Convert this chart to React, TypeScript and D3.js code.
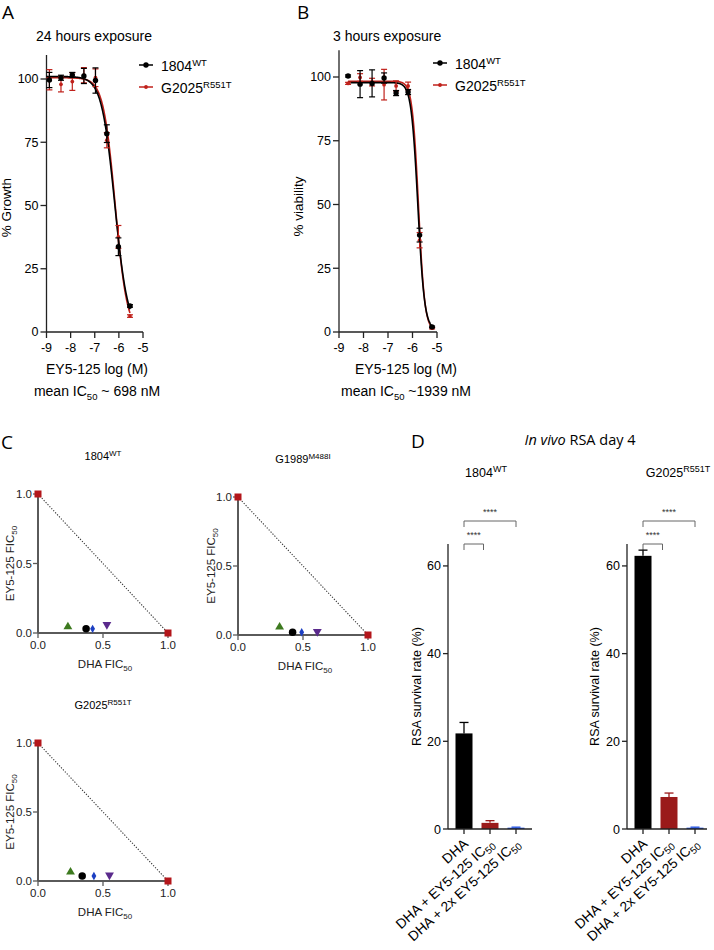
import React from "react";
import * as d3 from "d3";

const FONT = "'Liberation Sans', Arial, Helvetica, sans-serif";
const LETTER_FONT = "'Open Sans', 'Liberation Sans', sans-serif";

// ---------- Panel A (24 h) ----------
const A_LOGX = [-8.88, -8.4, -7.93, -7.45, -6.97, -6.5, -6.02, -5.54];
const A_WT = [99.6, 100.5, 101.6, 101.2, 99.4, 78.4, 33.7, 10.3];
const A_WT_SD = [3, 1, 1, 3, 5, 3.5, 3.5, 0.5];
const A_MUT = [99.7, 97.9, 99, 101.5, 100.5, 75.8, 37.6, 6.3];
const A_MUT_SD = [4, 3, 3.5, 3, 3.5, 3, 4.5, 0.5];
// top, bottom, logIC50, hill
const A_FIT_WT = [101, 0, -6.17, 1.6];
const A_FIT_MUT = [100.5, -0.5, -6.15, 1.75];

// ---------- Panel B (3 h) ----------
const B_LOGX = [-8.63, -8.14, -7.65, -7.16, -6.67, -6.18, -5.71, -5.2];
const B_WT = [100.4, 97.2, 97.5, 99.6, 93.7, 94.1, 38, 2];
const B_WT_SD = [0.4, 5.3, 5.3, 2, 1, 1, 2.7, 0.3];
const B_MUT = [97.5, 99.8, 98, 97, 96.5, 96.5, 36, 1.5];
const B_MUT_SD = [0.4, 1.5, 1.5, 6, 2, 1.5, 3, 0.3];
const B_FIT_WT = [97.8, 1, -5.78, 3.2];
const B_FIT_MUT = [98.3, 0.5, -5.755, 3.4];

const DOSE_TICKS = [-9, -8, -7, -6, -5];
const PCT_TICKS = [0, 25, 50, 75, 100];

// ---------- Panel C (isobolograms) ----------
const C_SHAPES = ["triangle", "circle", "diamond", "triangleDown"];
const C_COLORS = ["#3d7a1f", "#000000", "#1c3fc2", "#5a2a8c"];
const C1_DHA = [0.23, 0.37, 0.42, 0.53];
const C1_EY = [0.045, 0.03, 0.03, 0.06];
const C2_DHA = [0.32, 0.42, 0.49, 0.61];
const C2_EY = [0.058, 0.02, 0.02, 0.025];
const C3_DHA = [0.25, 0.34, 0.43, 0.55];
const C3_EY = [0.065, 0.036, 0.036, 0.043];
const C_SINGLE_DHA = [0, 1];
const C_SINGLE_EY = [1, 0];
const FIC_TICKS = [0, 0.5, 1];

// ---------- Panel D (in vivo RSA) ----------
const D_CATS = ["DHA", "DHA + EY5-125 IC", "DHA + 2x EY5-125 IC"];
const D_COLORS = ["#000000", "#9a1a1a", "#1f4fe0"];
const D1_VALUES = [21.8, 1.4, 0.3];
const D1_ERR = [2.5, 0.5, 0.12];
const D2_VALUES = [62.3, 7.3, 0.3];
const D2_ERR = [1.3, 0.9, 0.12];
const D_TICKS = [0, 20, 40, 60];

function logistic(p: number[], x: number) {
  const [top, bottom, c, h] = p;
  return bottom + (top - bottom) / (1 + Math.pow(10, (x - c) * h));
}

function SupText({ x, y, base, sup, size, supSize, anchor = "start", fill = "#000" }: any) {
  return (
    <text x={x} y={y} fontSize={size} fontFamily={FONT} textAnchor={anchor} fill={fill}>
      <tspan>{base}</tspan>
      <tspan dy={-size * 0.38} fontSize={supSize}>{sup}</tspan>
    </text>
  );
}

function DoseResponse(p: any) {
  const x = d3.scaleLinear().domain([-9, -5]).range(p.px);
  const y = d3.scaleLinear().domain([0, 100]).range(p.py);
  const series = [
    { vals: p.mut, sd: p.mutSd, fit: p.fitMut, color: "#c0211b", r: 1.9 },
    { vals: p.wt, sd: p.wtSd, fit: p.fitWt, color: "#000000", r: 2.7 },
  ];
  const xs = d3.range(p.curveStart, p.logx[p.logx.length - 1] + 0.0001, 0.01);
  const y0 = y(0);
  return (
    <g>
      <text x={p.titleX} y={41} fontSize={14} fontFamily={FONT}>{p.title}</text>
      {/* y axis */}
      <line x1={x(-9)} x2={x(-9)} y1={y(0)} y2={y(p.yMax)} stroke="#222" strokeWidth={1.3} />
      {PCT_TICKS.map((t) => (
        <g key={t}>
          <line x1={x(-9) - 6} x2={x(-9)} y1={y(t)} y2={y(t)} stroke="#222" strokeWidth={1.3} />
          <text x={x(-9) - 8} y={y(t) + 4.3} fontSize={12.5} fontFamily={FONT} textAnchor="end">{t}</text>
        </g>
      ))}
      <text transform={`translate(${p.ylabelX},${(y(0) + y(100)) / 2 + 2}) rotate(-90)`} fontSize={13.5} fontFamily={FONT} textAnchor="middle">{p.ylabel}</text>
      {/* x axis */}
      <line x1={x(-9)} x2={x(-5)} y1={y0} y2={y0} stroke="#222" strokeWidth={1.3} />
      {DOSE_TICKS.map((t) => (
        <g key={t}>
          <line x1={x(t)} x2={x(t)} y1={y0} y2={y0 + 6} stroke="#222" strokeWidth={1.3} />
          <text x={x(t)} y={y0 + 19.5} fontSize={12.5} fontFamily={FONT} textAnchor="middle">{t}</text>
        </g>
      ))}
      <text x={p.labelCx} y={y0 + 42} fontSize={14} fontFamily={FONT} textAnchor="middle">EY5-125 log (M)</text>
      <text x={p.labelCx} y={y0 + 64} fontSize={14} fontFamily={FONT} textAnchor="middle">
        <tspan>mean IC</tspan>
        <tspan dy={4} fontSize={9.5}>50</tspan>
        <tspan dy={-4}>{p.icText}</tspan>
      </text>
      {/* curves */}
      {series.map((s, i) => (
        <path
          key={"c" + i}
          d={d3.line<number>().x((d) => x(d)).y((d) => y(logistic(s.fit, d)))(xs) || ""}
          fill="none"
          stroke={s.color}
          strokeWidth={1.6}
        />
      ))}
      {/* points & error bars */}
      {series.map((s, i) => (
        <g key={"p" + i}>
          {p.logx.map((lx: number, j: number) => {
            const cx = x(lx);
            const hi = y(s.vals[j] + s.sd[j]);
            const lo = y(s.vals[j] - s.sd[j]);
            return (
              <g key={j}>
                <line x1={cx} x2={cx} y1={hi} y2={lo} stroke={s.color} strokeWidth={1.2} />
                <line x1={cx - 3} x2={cx + 3} y1={hi} y2={hi} stroke={s.color} strokeWidth={1.2} />
                <line x1={cx - 3} x2={cx + 3} y1={lo} y2={lo} stroke={s.color} strokeWidth={1.2} />
                <circle cx={cx} cy={y(s.vals[j])} r={s.r} fill={s.color} />
              </g>
            );
          })}
        </g>
      ))}
      {/* legend */}
      <line x1={p.legendX} x2={p.legendX + 14} y1={p.legendY} y2={p.legendY} stroke="#000" strokeWidth={1.5} />
      <circle cx={p.legendX + 7} cy={p.legendY} r={2.7} fill="#000" />
      <SupText x={p.legendX + 22} y={p.legendY + 6} base="1804" sup="WT" size={14} supSize={9.5} />
      <line x1={p.legendX} x2={p.legendX + 14} y1={p.legendY + 22} y2={p.legendY + 22} stroke="#c0211b" strokeWidth={1.5} />
      <circle cx={p.legendX + 7} cy={p.legendY + 22} r={1.9} fill="#c0211b" />
      <SupText x={p.legendX + 22} y={p.legendY + 28} base="G2025" sup="R551T" size={14} supSize={9.5} />
    </g>
  );
}

function symbolPath(shape: string) {
  if (shape === "triangle") return d3.symbol(d3.symbolTriangle, 34)() || "";
  if (shape === "circle") return d3.symbol(d3.symbolCircle, 44)() || "";
  if (shape === "diamond") return d3.symbol(d3.symbolDiamond, 20)() || "";
  return d3.symbol(d3.symbolTriangle, 34)() || "";
}

function Isobologram(p: any) {
  const x = d3.scaleLinear().domain([0, 1]).range(p.xr);
  const y = d3.scaleLinear().domain([0, 1]).range(p.yr);
  const ax = "#5a5a5a";
  const fmt = d3.format(".1f");
  return (
    <g>
      <SupText x={p.titleCx} y={y(1) - 34} base={p.name} sup={p.sup} size={11} supSize={8} anchor="middle" />
      <line x1={x(0)} x2={x(0)} y1={y(0)} y2={y(1)} stroke={ax} strokeWidth={2} />
      <line x1={x(0)} x2={x(1)} y1={y(0)} y2={y(0)} stroke={ax} strokeWidth={2} />
      {FIC_TICKS.map((t) => (
        <g key={t}>
          <line x1={x(0) - 5} x2={x(0)} y1={y(t)} y2={y(t)} stroke={ax} strokeWidth={1.3} />
          <text x={x(0) - 6} y={y(t) + 4} fontSize={11.5} fontFamily={FONT} textAnchor="end" fill="#222">{fmt(t)}</text>
          <line x1={x(t)} x2={x(t)} y1={y(0)} y2={y(0) + 5} stroke={ax} strokeWidth={1.3} />
          <text x={x(t)} y={y(0) + 16} fontSize={11.5} fontFamily={FONT} textAnchor="middle" fill="#222">{fmt(t)}</text>
        </g>
      ))}
      <text x={(x(0) + x(1)) / 2 + 2} y={y(0) + 35} fontSize={11.5} fontFamily={FONT} textAnchor="middle" fill="#222">
        <tspan>DHA FIC</tspan>
        <tspan dy={3} fontSize={8}>50</tspan>
      </text>
      <text transform={`translate(${p.ylabelX},${(y(0) + y(1)) / 2}) rotate(-90)`} fontSize={11.5} fontFamily={FONT} textAnchor="middle" fill="#222">
        <tspan>EY5-125 FIC</tspan>
        <tspan dy={3} fontSize={8}>50</tspan>
      </text>
      <line x1={x(0)} y1={y(1)} x2={x(1)} y2={y(0)} stroke="#333" strokeWidth={1.1} strokeDasharray="1.2,1.6" />
      {C_SINGLE_DHA.map((d, i) => (
        <rect key={"s" + i} x={x(d) - 3.5} y={y(C_SINGLE_EY[i]) - 3.5} width={7} height={7} fill="#b3161b" />
      ))}
      {p.dha.map((d: number, i: number) => (
        <path
          key={i}
          d={symbolPath(C_SHAPES[i])}
          transform={`translate(${x(d)},${y(p.ey[i])})${C_SHAPES[i] === "triangleDown" ? " rotate(180)" : ""}`}
          fill={C_COLORS[i]}
        />
      ))}
    </g>
  );
}

function CatLabel({ x, y, label }: any) {
  const hasIC = label.endsWith("IC");
  return (
    <text transform={`translate(${x},${y}) rotate(-42)`} fontSize={13.8} fontFamily={FONT} textAnchor="end">
      <tspan>{label}</tspan>
      {hasIC ? <tspan dy={3} fontSize={10}>50</tspan> : null}
    </text>
  );
}

function RSABars(p: any) {
  const y = d3.scaleLinear().domain([0, 65]).range([829, 544]);
  const x = d3.scalePoint<string>().domain(D_CATS).range(p.tickRange);
  const step = x.step();
  const bw = 17;
  const y0 = y(0);
  const br = "#666";
  const b2 = x(D_CATS[1])! - 0.25 * step;
  return (
    <g>
      <SupText x={p.titleCx} y={477} base={p.name} sup={p.sup} size={12.5} supSize={9} anchor="middle" />
      {/* brackets */}
      <line x1={x(D_CATS[0])!} x2={x(D_CATS[2])!} y1={521} y2={521} stroke={br} strokeWidth={1} />
      <line x1={x(D_CATS[0])!} x2={x(D_CATS[0])!} y1={521} y2={527} stroke={br} strokeWidth={1} />
      <line x1={x(D_CATS[2])!} x2={x(D_CATS[2])!} y1={521} y2={527} stroke={br} strokeWidth={1} />
      <text x={(x(D_CATS[0])! + x(D_CATS[2])!) / 2} y={515} fontSize={9} fontFamily={FONT} textAnchor="middle" fill="#333">****</text>
      <line x1={x(D_CATS[0])!} x2={b2} y1={544} y2={544} stroke={br} strokeWidth={1} />
      <line x1={x(D_CATS[0])!} x2={x(D_CATS[0])!} y1={544} y2={550} stroke={br} strokeWidth={1} />
      <line x1={b2} x2={b2} y1={544} y2={550} stroke={br} strokeWidth={1} />
      <text x={(x(D_CATS[0])! + b2) / 2} y={538} fontSize={9} fontFamily={FONT} textAnchor="middle" fill="#333">****</text>
      {/* bars */}
      {D_CATS.map((c, i) => {
        const cx = x(c)!;
        const top = y(p.values[i]);
        const eb = y(p.values[i] + p.err[i]);
        return (
          <g key={c}>
            <rect x={cx - bw / 2} y={top} width={bw} height={y0 - top} fill={D_COLORS[i]} />
            <line x1={cx} x2={cx} y1={top} y2={eb} stroke={D_COLORS[i]} strokeWidth={1.3} />
            <line x1={cx - 4.5} x2={cx + 4.5} y1={eb} y2={eb} stroke={D_COLORS[i]} strokeWidth={1.3} />
          </g>
        );
      })}
      {/* axes */}
      <line x1={p.axisX} x2={p.axisX} y1={y0} y2={y(65)} stroke="#222" strokeWidth={1.3} />
      <line x1={p.axisX} x2={p.axisEnd} y1={y0} y2={y0} stroke="#222" strokeWidth={1.3} />
      {D_TICKS.map((t) => (
        <g key={t}>
          <line x1={p.axisX - 5} x2={p.axisX} y1={y(t)} y2={y(t)} stroke="#222" strokeWidth={1.3} />
          <text x={p.axisX - 7} y={y(t) + 4.5} fontSize={12.5} fontFamily={FONT} textAnchor="end">{t}</text>
        </g>
      ))}
      {D_CATS.map((c) => (
        <g key={"t" + c}>
          <line x1={x(c)!} x2={x(c)!} y1={y0} y2={y0 + 5} stroke="#222" strokeWidth={1.3} />
          <CatLabel x={x(c)! + 5} y={y0 + 16} label={c} />
        </g>
      ))}
      <text transform={`translate(${p.ylabelX},${(y0 + y(65)) / 2}) rotate(-90)`} fontSize={12.5} fontFamily={FONT} textAnchor="middle">RSA survival rate (%)</text>
    </g>
  );
}

export default function App() {
  return (
    <svg
      width={714}
      height={950}
      viewBox="0 0 714 950"
      style={{ position: "absolute", left: 0, top: 0, background: "#fff", display: "block" }}
    >
      <rect width={714} height={950} fill="#fff" />
      {/* panel letters */}
      <text x={2} y={19} fontSize={19} fontFamily={LETTER_FONT}>A</text>
      <text x={297} y={19} fontSize={19} fontFamily={LETTER_FONT}>B</text>
      <text x={1} y={449} fontSize={19} fontFamily={LETTER_FONT}>C</text>
      <text x={411} y={448} fontSize={19} fontFamily={LETTER_FONT}>D</text>

      <DoseResponse
        px={[46.5, 143]}
        py={[332, 79]}
        yMax={109.5}
        logx={A_LOGX}
        wt={A_WT}
        wtSd={A_WT_SD}
        mut={A_MUT}
        mutSd={A_MUT_SD}
        fitWt={A_FIT_WT}
        fitMut={A_FIT_MUT}
        curveStart={-9}
        title="24 hours exposure"
        titleX={36}
        ylabel="% Growth"
        ylabelX={11}
        labelCx={97}
        icText=" ~ 698 nM"
        legendX={139}
        legendY={65}
      />
      <DoseResponse
        px={[339, 437]}
        py={[332, 77]}
        yMax={110.5}
        logx={B_LOGX}
        wt={B_WT}
        wtSd={B_WT_SD}
        mut={B_MUT}
        mutSd={B_MUT_SD}
        fitWt={B_FIT_WT}
        fitMut={B_FIT_MUT}
        curveStart={-8.63}
        title="3 hours exposure"
        titleX={333}
        ylabel="% viability"
        ylabelX={303}
        labelCx={406}
        icText=" ~1939 nM"
        legendX={433}
        legendY={63}
      />

      <Isobologram xr={[38, 168]} yr={[633, 494]} name="1804" sup="WT" titleCx={103} ylabelX={14} dha={C1_DHA} ey={C1_EY} />
      <Isobologram xr={[238, 368]} yr={[635, 497]} name="G1989" sup="M488I" titleCx={303} ylabelX={215} dha={C2_DHA} ey={C2_EY} />
      <Isobologram xr={[38, 168]} yr={[881, 743]} name="G2025" sup="R551T" titleCx={103} ylabelX={14} dha={C3_DHA} ey={C3_EY} />

      <text x={580} y={445} fontSize={14.5} fontFamily={LETTER_FONT} textAnchor="middle">
        <tspan fontStyle="italic">In vivo</tspan>
        <tspan> RSA day 4</tspan>
      </text>
      <RSABars name="1804" sup="WT" titleCx={486} axisX={448} axisEnd={532} tickRange={[464, 516]} values={D1_VALUES} err={D1_ERR} ylabelX={421} />
      <RSABars name="G2025" sup="R551T" titleCx={678} axisX={627} axisEnd={707} tickRange={[643, 695]} values={D2_VALUES} err={D2_ERR} ylabelX={599} />
    </svg>
  );
}
